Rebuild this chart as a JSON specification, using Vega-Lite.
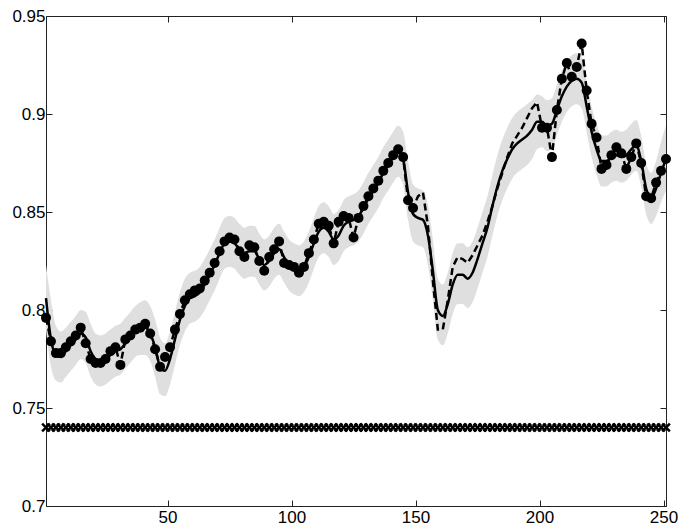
{
  "$schema": "https://vega.github.io/schema/vega-lite/v6.json",
  "width": 620,
  "height": 490,
  "autosize": {"type": "none"},
  "padding": {"left": 46, "top": 16, "right": 33, "bottom": 25},
  "background": "white",
  "config": {
    "view": {"stroke": "#222222", "strokeWidth": 1},
    "axis": {
      "grid": false,
      "domain": false,
      "tickColor": "#222222",
      "tickWidth": 1,
      "tickSize": 6,
      "offset": -6,
      "zindex": 2,
      "labelFont": "Liberation Sans",
      "labelFontSize": 17,
      "labelColor": "black",
      "labelFlush": false,
      "labelOverlap": false,
      "title": null
    }
  },
  "data": {"values": [
    {"x":1,"mean":0.806,"lo":0.790,"hi":0.823,"dash":0.796,"dot":0.796,"m":0.74},
    {"x":3,"mean":0.785,"lo":0.771,"hi":0.805,"dash":0.784,"dot":0.784,"m":0.74},
    {"x":5,"mean":0.777,"lo":0.764,"hi":0.792,"dash":0.778,"dot":0.778,"m":0.74},
    {"x":7,"mean":0.776,"lo":0.763,"hi":0.789,"dash":0.778,"dot":0.778,"m":0.74},
    {"x":9,"mean":0.779,"lo":0.766,"hi":0.791,"dash":0.781,"dot":0.781,"m":0.74},
    {"x":11,"mean":0.782,"lo":0.769,"hi":0.794,"dash":0.784,"dot":0.784,"m":0.74},
    {"x":13,"mean":0.785,"lo":0.772,"hi":0.797,"dash":0.787,"dot":0.787,"m":0.74},
    {"x":15,"mean":0.788,"lo":0.775,"hi":0.800,"dash":0.791,"dot":0.791,"m":0.74},
    {"x":17,"mean":0.786,"lo":0.773,"hi":0.799,"dash":0.783,"dot":0.783,"m":0.74},
    {"x":19,"mean":0.779,"lo":0.766,"hi":0.793,"dash":0.775,"dot":0.775,"m":0.74},
    {"x":21,"mean":0.775,"lo":0.762,"hi":0.788,"dash":0.773,"dot":0.773,"m":0.74},
    {"x":23,"mean":0.774,"lo":0.761,"hi":0.787,"dash":0.773,"dot":0.773,"m":0.74},
    {"x":25,"mean":0.775,"lo":0.762,"hi":0.788,"dash":0.775,"dot":0.775,"m":0.74},
    {"x":27,"mean":0.777,"lo":0.764,"hi":0.790,"dash":0.779,"dot":0.779,"m":0.74},
    {"x":29,"mean":0.779,"lo":0.766,"hi":0.792,"dash":0.781,"dot":0.781,"m":0.74},
    {"x":31,"mean":0.780,"lo":0.767,"hi":0.793,"dash":0.772,"dot":0.772,"m":0.74},
    {"x":33,"mean":0.783,"lo":0.770,"hi":0.796,"dash":0.785,"dot":0.785,"m":0.74},
    {"x":35,"mean":0.786,"lo":0.773,"hi":0.799,"dash":0.787,"dot":0.787,"m":0.74},
    {"x":37,"mean":0.789,"lo":0.776,"hi":0.802,"dash":0.790,"dot":0.790,"m":0.74},
    {"x":39,"mean":0.791,"lo":0.777,"hi":0.804,"dash":0.791,"dot":0.791,"m":0.74},
    {"x":41,"mean":0.791,"lo":0.777,"hi":0.805,"dash":0.793,"dot":0.793,"m":0.74},
    {"x":43,"mean":0.788,"lo":0.774,"hi":0.802,"dash":0.788,"dot":0.788,"m":0.74},
    {"x":45,"mean":0.781,"lo":0.766,"hi":0.795,"dash":0.780,"dot":0.780,"m":0.74},
    {"x":47,"mean":0.771,"lo":0.757,"hi":0.786,"dash":0.771,"dot":0.771,"m":0.74},
    {"x":49,"mean":0.769,"lo":0.756,"hi":0.783,"dash":0.776,"dot":0.776,"m":0.74},
    {"x":51,"mean":0.775,"lo":0.762,"hi":0.789,"dash":0.781,"dot":0.781,"m":0.74},
    {"x":53,"mean":0.785,"lo":0.772,"hi":0.799,"dash":0.790,"dot":0.790,"m":0.74},
    {"x":55,"mean":0.795,"lo":0.782,"hi":0.809,"dash":0.798,"dot":0.798,"m":0.74},
    {"x":57,"mean":0.802,"lo":0.789,"hi":0.816,"dash":0.805,"dot":0.805,"m":0.74},
    {"x":59,"mean":0.806,"lo":0.793,"hi":0.819,"dash":0.808,"dot":0.808,"m":0.74},
    {"x":61,"mean":0.807,"lo":0.794,"hi":0.820,"dash":0.810,"dot":0.810,"m":0.74},
    {"x":63,"mean":0.809,"lo":0.796,"hi":0.822,"dash":0.811,"dot":0.811,"m":0.74},
    {"x":65,"mean":0.813,"lo":0.800,"hi":0.826,"dash":0.815,"dot":0.815,"m":0.74},
    {"x":67,"mean":0.818,"lo":0.805,"hi":0.831,"dash":0.819,"dot":0.819,"m":0.74},
    {"x":69,"mean":0.823,"lo":0.810,"hi":0.836,"dash":0.824,"dot":0.824,"m":0.74},
    {"x":71,"mean":0.829,"lo":0.816,"hi":0.842,"dash":0.830,"dot":0.830,"m":0.74},
    {"x":73,"mean":0.834,"lo":0.821,"hi":0.847,"dash":0.835,"dot":0.835,"m":0.74},
    {"x":75,"mean":0.835,"lo":0.822,"hi":0.848,"dash":0.837,"dot":0.837,"m":0.74},
    {"x":77,"mean":0.834,"lo":0.821,"hi":0.847,"dash":0.836,"dot":0.836,"m":0.74},
    {"x":79,"mean":0.831,"lo":0.818,"hi":0.844,"dash":0.830,"dot":0.830,"m":0.74},
    {"x":81,"mean":0.829,"lo":0.816,"hi":0.842,"dash":0.827,"dot":0.827,"m":0.74},
    {"x":83,"mean":0.830,"lo":0.817,"hi":0.843,"dash":0.833,"dot":0.833,"m":0.74},
    {"x":85,"mean":0.830,"lo":0.817,"hi":0.843,"dash":0.832,"dot":0.832,"m":0.74},
    {"x":87,"mean":0.826,"lo":0.813,"hi":0.839,"dash":0.825,"dot":0.825,"m":0.74},
    {"x":89,"mean":0.823,"lo":0.810,"hi":0.836,"dash":0.820,"dot":0.820,"m":0.74},
    {"x":91,"mean":0.825,"lo":0.812,"hi":0.838,"dash":0.827,"dot":0.827,"m":0.74},
    {"x":93,"mean":0.829,"lo":0.816,"hi":0.842,"dash":0.831,"dot":0.831,"m":0.74},
    {"x":95,"mean":0.831,"lo":0.818,"hi":0.844,"dash":0.835,"dot":0.835,"m":0.74},
    {"x":97,"mean":0.827,"lo":0.814,"hi":0.840,"dash":0.824,"dot":0.824,"m":0.74},
    {"x":99,"mean":0.823,"lo":0.810,"hi":0.836,"dash":0.823,"dot":0.823,"m":0.74},
    {"x":101,"mean":0.821,"lo":0.808,"hi":0.834,"dash":0.822,"dot":0.822,"m":0.74},
    {"x":103,"mean":0.820,"lo":0.807,"hi":0.833,"dash":0.819,"dot":0.819,"m":0.74},
    {"x":105,"mean":0.822,"lo":0.809,"hi":0.835,"dash":0.822,"dot":0.822,"m":0.74},
    {"x":107,"mean":0.827,"lo":0.814,"hi":0.840,"dash":0.829,"dot":0.829,"m":0.74},
    {"x":109,"mean":0.834,"lo":0.821,"hi":0.847,"dash":0.836,"dot":0.836,"m":0.74},
    {"x":111,"mean":0.840,"lo":0.827,"hi":0.853,"dash":0.844,"dot":0.844,"m":0.74},
    {"x":113,"mean":0.842,"lo":0.829,"hi":0.855,"dash":0.845,"dot":0.845,"m":0.74},
    {"x":115,"mean":0.840,"lo":0.827,"hi":0.853,"dash":0.843,"dot":0.843,"m":0.74},
    {"x":117,"mean":0.836,"lo":0.823,"hi":0.849,"dash":0.834,"dot":0.834,"m":0.74},
    {"x":119,"mean":0.838,"lo":0.825,"hi":0.851,"dash":0.845,"dot":0.845,"m":0.74},
    {"x":121,"mean":0.843,"lo":0.830,"hi":0.856,"dash":0.848,"dot":0.848,"m":0.74},
    {"x":123,"mean":0.845,"lo":0.832,"hi":0.858,"dash":0.847,"dot":0.847,"m":0.74},
    {"x":125,"mean":0.846,"lo":0.833,"hi":0.859,"dash":0.837,"dot":0.837,"m":0.74},
    {"x":127,"mean":0.848,"lo":0.835,"hi":0.861,"dash":0.847,"dot":0.847,"m":0.74},
    {"x":129,"mean":0.852,"lo":0.839,"hi":0.865,"dash":0.853,"dot":0.853,"m":0.74},
    {"x":131,"mean":0.857,"lo":0.844,"hi":0.870,"dash":0.858,"dot":0.858,"m":0.74},
    {"x":133,"mean":0.861,"lo":0.848,"hi":0.874,"dash":0.862,"dot":0.862,"m":0.74},
    {"x":135,"mean":0.865,"lo":0.852,"hi":0.878,"dash":0.866,"dot":0.866,"m":0.74},
    {"x":137,"mean":0.870,"lo":0.857,"hi":0.883,"dash":0.871,"dot":0.871,"m":0.74},
    {"x":139,"mean":0.874,"lo":0.861,"hi":0.887,"dash":0.875,"dot":0.875,"m":0.74},
    {"x":141,"mean":0.878,"lo":0.865,"hi":0.891,"dash":0.879,"dot":0.879,"m":0.74},
    {"x":143,"mean":0.881,"lo":0.868,"hi":0.894,"dash":0.882,"dot":0.882,"m":0.74},
    {"x":145,"mean":0.877,"lo":0.864,"hi":0.891,"dash":0.878,"dot":0.878,"m":0.74},
    {"x":147,"mean":0.860,"lo":0.846,"hi":0.876,"dash":0.856,"dot":0.856,"m":0.74},
    {"x":149,"mean":0.849,"lo":0.835,"hi":0.864,"dash":0.852,"dot":0.852,"m":0.74},
    {"x":151,"mean":0.847,"lo":0.833,"hi":0.862,"dash":0.858,"m":0.74},
    {"x":153,"mean":0.846,"lo":0.832,"hi":0.861,"dash":0.860,"m":0.74},
    {"x":155,"mean":0.838,"lo":0.823,"hi":0.854,"dash":0.843,"m":0.74},
    {"x":157,"mean":0.820,"lo":0.805,"hi":0.836,"dash":0.815,"m":0.74},
    {"x":159,"mean":0.800,"lo":0.785,"hi":0.816,"dash":0.790,"m":0.74},
    {"x":161,"mean":0.797,"lo":0.782,"hi":0.813,"dash":0.790,"m":0.74},
    {"x":163,"mean":0.803,"lo":0.788,"hi":0.819,"dash":0.805,"m":0.74},
    {"x":165,"mean":0.813,"lo":0.798,"hi":0.829,"dash":0.822,"m":0.74},
    {"x":167,"mean":0.818,"lo":0.803,"hi":0.834,"dash":0.827,"m":0.74},
    {"x":169,"mean":0.818,"lo":0.803,"hi":0.834,"dash":0.826,"m":0.74},
    {"x":171,"mean":0.816,"lo":0.801,"hi":0.832,"dash":0.824,"m":0.74},
    {"x":173,"mean":0.819,"lo":0.804,"hi":0.835,"dash":0.828,"m":0.74},
    {"x":175,"mean":0.826,"lo":0.811,"hi":0.842,"dash":0.833,"m":0.74},
    {"x":177,"mean":0.834,"lo":0.819,"hi":0.850,"dash":0.838,"m":0.74},
    {"x":179,"mean":0.842,"lo":0.827,"hi":0.858,"dash":0.845,"m":0.74},
    {"x":181,"mean":0.853,"lo":0.838,"hi":0.869,"dash":0.853,"m":0.74},
    {"x":183,"mean":0.863,"lo":0.848,"hi":0.879,"dash":0.862,"m":0.74},
    {"x":185,"mean":0.871,"lo":0.856,"hi":0.887,"dash":0.870,"m":0.74},
    {"x":187,"mean":0.877,"lo":0.862,"hi":0.893,"dash":0.878,"m":0.74},
    {"x":189,"mean":0.882,"lo":0.867,"hi":0.898,"dash":0.885,"m":0.74},
    {"x":191,"mean":0.885,"lo":0.870,"hi":0.901,"dash":0.889,"m":0.74},
    {"x":193,"mean":0.887,"lo":0.872,"hi":0.903,"dash":0.893,"m":0.74},
    {"x":195,"mean":0.889,"lo":0.874,"hi":0.905,"dash":0.898,"m":0.74},
    {"x":197,"mean":0.892,"lo":0.877,"hi":0.907,"dash":0.903,"m":0.74},
    {"x":199,"mean":0.896,"lo":0.882,"hi":0.910,"dash":0.906,"m":0.74},
    {"x":201,"mean":0.896,"lo":0.883,"hi":0.909,"dash":0.893,"dot":0.893,"m":0.74},
    {"x":203,"mean":0.894,"lo":0.881,"hi":0.907,"dash":0.893,"dot":0.893,"m":0.74},
    {"x":205,"mean":0.895,"lo":0.882,"hi":0.908,"dash":0.878,"dot":0.878,"m":0.74},
    {"x":207,"mean":0.902,"lo":0.889,"hi":0.915,"dash":0.902,"dot":0.902,"m":0.74},
    {"x":209,"mean":0.909,"lo":0.896,"hi":0.922,"dash":0.918,"dot":0.918,"m":0.74},
    {"x":211,"mean":0.914,"lo":0.901,"hi":0.927,"dash":0.926,"dot":0.926,"m":0.74},
    {"x":213,"mean":0.917,"lo":0.904,"hi":0.930,"dash":0.919,"dot":0.919,"m":0.74},
    {"x":215,"mean":0.918,"lo":0.905,"hi":0.931,"dash":0.924,"dot":0.924,"m":0.74},
    {"x":217,"mean":0.916,"lo":0.903,"hi":0.929,"dash":0.936,"dot":0.936,"m":0.74},
    {"x":219,"mean":0.904,"lo":0.891,"hi":0.917,"dash":0.912,"dot":0.912,"m":0.74},
    {"x":221,"mean":0.891,"lo":0.878,"hi":0.904,"dash":0.895,"dot":0.895,"m":0.74},
    {"x":223,"mean":0.882,"lo":0.869,"hi":0.895,"dash":0.888,"dot":0.888,"m":0.74},
    {"x":225,"mean":0.876,"lo":0.863,"hi":0.889,"dash":0.872,"dot":0.872,"m":0.74},
    {"x":227,"mean":0.876,"lo":0.863,"hi":0.889,"dash":0.874,"dot":0.874,"m":0.74},
    {"x":229,"mean":0.878,"lo":0.865,"hi":0.891,"dash":0.879,"dot":0.879,"m":0.74},
    {"x":231,"mean":0.879,"lo":0.866,"hi":0.892,"dash":0.883,"dot":0.883,"m":0.74},
    {"x":233,"mean":0.878,"lo":0.865,"hi":0.891,"dash":0.880,"dot":0.880,"m":0.74},
    {"x":235,"mean":0.879,"lo":0.866,"hi":0.892,"dash":0.872,"dot":0.872,"m":0.74},
    {"x":237,"mean":0.882,"lo":0.869,"hi":0.895,"dash":0.878,"dot":0.878,"m":0.74},
    {"x":239,"mean":0.884,"lo":0.871,"hi":0.897,"dash":0.885,"dot":0.885,"m":0.74},
    {"x":241,"mean":0.876,"lo":0.863,"hi":0.889,"dash":0.875,"dot":0.875,"m":0.74},
    {"x":243,"mean":0.862,"lo":0.849,"hi":0.875,"dash":0.858,"dot":0.858,"m":0.74},
    {"x":245,"mean":0.857,"lo":0.844,"hi":0.870,"dash":0.857,"dot":0.857,"m":0.74},
    {"x":247,"mean":0.862,"lo":0.848,"hi":0.876,"dash":0.865,"dot":0.865,"m":0.74},
    {"x":249,"mean":0.870,"lo":0.855,"hi":0.886,"dash":0.871,"dot":0.871,"m":0.74},
    {"x":251,"mean":0.877,"lo":0.861,"hi":0.894,"dash":0.877,"dot":0.877,"m":0.74}
  ]},
  "resolve": {"axis": {"x": "independent", "y": "independent"}},
  "layer": [
    {
      "mark": {"type": "area", "color": "#dfdfdf", "interpolate": "monotone"},
      "encoding": {
        "x": {"field": "x", "type": "quantitative", "scale": {"domain": [1, 251], "nice": false, "zero": false},
              "axis": {"orient": "bottom", "values": [50, 100, 150, 200, 250], "labelPadding": 3}},
        "y": {"field": "lo", "type": "quantitative", "scale": {"domain": [0.7, 0.95], "nice": false, "zero": false},
              "axis": {"orient": "left", "values": [0.7, 0.75, 0.8, 0.85, 0.9, 0.95], "format": "~g", "labelPadding": 1}},
        "y2": {"field": "hi"}
      }
    },
    {
      "mark": {"type": "line", "color": "black", "strokeWidth": 2.5, "interpolate": "monotone"},
      "encoding": {
        "x": {"field": "x", "type": "quantitative", "axis": {"orient": "top", "values": [50, 100, 150, 200, 250], "labels": false}},
        "y": {"field": "mean", "type": "quantitative", "axis": {"orient": "right", "values": [0.7, 0.75, 0.8, 0.85, 0.9, 0.95], "labels": false}}
      }
    },
    {
      "mark": {"type": "line", "color": "black", "strokeWidth": 2.5, "strokeDash": [7, 4]},
      "encoding": {
        "x": {"field": "x", "type": "quantitative", "axis": null},
        "y": {"field": "dash", "type": "quantitative", "axis": null}
      }
    },
    {
      "mark": {"type": "point", "shape": "circle", "filled": true, "color": "black", "opacity": 1, "size": 100},
      "encoding": {
        "x": {"field": "x", "type": "quantitative", "axis": null},
        "y": {"field": "dot", "type": "quantitative", "axis": null}
      }
    },
    {
      "mark": {"type": "point", "shape": "M-1,-1L1,1M-1,1L1,-1", "filled": false, "color": "black", "strokeWidth": 2.5, "opacity": 1, "size": 60},
      "encoding": {
        "x": {"field": "x", "type": "quantitative", "axis": null},
        "y": {"field": "m", "type": "quantitative", "axis": null}
      }
    }
  ]
}
